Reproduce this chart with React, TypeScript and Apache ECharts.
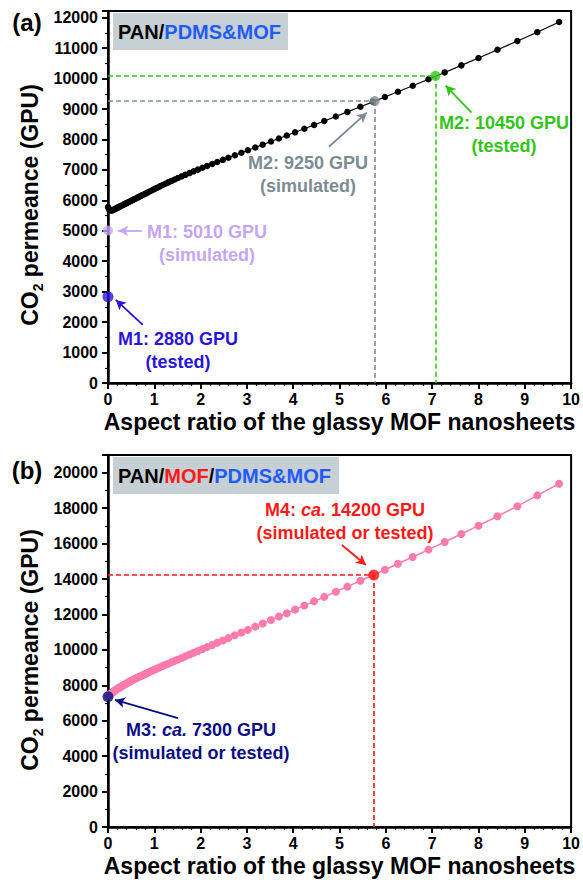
import { useEffect, useRef } from 'react';
import * as echarts from 'echarts';

const aspectRatio = [
  0, 0.02, 0.03, 0.05, 0.07, 0.09, 0.11, 0.13, 0.15, 0.17,
  0.19, 0.21, 0.23, 0.25, 0.27, 0.29, 0.31, 0.34, 0.36, 0.39,
  0.41, 0.44, 0.47, 0.5, 0.53, 0.56, 0.59, 0.63, 0.66, 0.7,
  0.74, 0.78, 0.82, 0.86, 0.91, 0.96, 1.01, 1.06, 1.12, 1.18,
  1.24, 1.3, 1.37, 1.44, 1.51, 1.59, 1.67, 1.76, 1.85, 1.94,
  2.04, 2.14, 2.25, 2.36, 2.48, 2.6, 2.74, 2.88, 3.02, 3.18,
  3.34, 3.52, 3.69, 3.86, 4.04, 4.24, 4.45, 4.67, 4.92, 5.17,
  5.45, 5.72, 5.98, 6.26, 6.58, 6.92, 7.27, 7.63, 8.0, 8.41,
  8.84, 9.27, 9.74,
];

const permeancePdmsMof = [
  5780, 5720, 5695, 5675, 5665, 5670, 5685, 5700, 5715, 5731,
  5746, 5762, 5777, 5792, 5808, 5823, 5839, 5862, 5877, 5900,
  5916, 5939, 5962, 5985, 6008, 6031, 6054, 6085, 6108, 6139,
  6170, 6200, 6231, 6262, 6300, 6339, 6377, 6415, 6460, 6504,
  6547, 6590, 6638, 6686, 6733, 6786, 6838, 6896, 6953, 7009,
  7070, 7130, 7196, 7261, 7331, 7401, 7482, 7563, 7644, 7736,
  7829, 7933, 8032, 8130, 8235, 8352, 8476, 8606, 8755, 8905,
  9073, 9236, 9394, 9566, 9765, 9979, 10202, 10434, 10676, 10947,
  11234, 11524, 11860,
];

const permeanceMofPdmsMof = [
  7400, 7445, 7465, 7505, 7545, 7585, 7625, 7665, 7705, 7740,
  7775, 7810, 7845, 7880, 7910, 7940, 7970, 8015, 8045, 8090,
  8120, 8170, 8215, 8260, 8300, 8335, 8375, 8425, 8460, 8510,
  8560, 8610, 8660, 8710, 8770, 8830, 8890, 8950, 9020, 9085,
  9155, 9220, 9300, 9380, 9460, 9545, 9635, 9735, 9835, 9935,
  10045, 10155, 10275, 10400, 10530, 10665, 10820, 10975, 11130, 11310,
  11490, 11690, 11880, 12070, 12275, 12500, 12740, 12990, 13280, 13570,
  13900, 14215, 14525, 14860, 15245, 15660, 16090, 16540, 17010, 17540,
  18110, 18720, 19380,
];

// highlighted points [aspect ratio, permeance]
const m1Tested = [0, 2830];
const m1Simulated = [0, 5010];
const m2Simulated = [5.76, 9260];
const m2Tested = [7.07, 10090];
const m3Point = [0, 7350];
const m4Point = [5.74, 14230];

// annotation arrows [[tailX, tailY], [headX, headY]]
const arrowM1Tested = [[0.75, 1910], [0.17, 2730]];
const arrowM1Simulated = [[0.73, 5000], [0.22, 5000]];
const arrowM2Simulated = [[4.77, 7760], [5.59, 8880]];
const arrowM2Tested = [[7.85, 8880], [7.29, 9770]];
const arrowM3 = [[1.51, 6150], [0.15, 7170]];
const arrowM4 = [[5.05, 15920], [5.57, 14790]];

const FONT = '"Liberation Sans", Arial, Helvetica, sans-serif';

const C_GRAY = '#7d8b94';
const C_GREEN = '#33c419';
const C_LILAC = '#c4a6f4';
const C_BLUE = '#2a14dc';
const C_PINK = '#ff7bac';
const C_RED = '#ff1a1a';
const C_NAVY = '#0c0c85';
const C_TITLEBLUE = '#1f5bff';

export default function App() {
  const ref = useRef<HTMLDivElement>(null);

  useEffect(() => {
    document.body.style.margin = '0';
    const chart = echarts.init(ref.current!, null, { renderer: 'svg' });

    const pairs = (ys: number[]) => aspectRatio.map((x, i) => [x, ys[i]]);

    const xAxis = (gridIndex: number) => ({
      type: 'value',
      gridIndex,
      min: 0,
      max: 10,
      interval: 1,
      axisLine: { show: true, onZero: false, lineStyle: { color: '#000', width: 2.5 } },
      axisTick: { show: true, inside: false, length: 6, lineStyle: { color: '#000', width: 2 } },
      minorTick: { show: true, splitNumber: 5, length: 3, lineStyle: { color: '#000', width: 1.2 } },
      axisLabel: { color: '#000', fontSize: 16, fontWeight: 'bold', fontFamily: FONT, margin: 8 },
      splitLine: { show: false },
      minorSplitLine: { show: false },
      name: 'Aspect ratio of the glassy MOF nanosheets',
      nameLocation: 'middle',
      nameGap: 27,
      nameTextStyle: { color: '#000', fontSize: 23, fontWeight: 'bold', fontFamily: FONT },
    });

    const yAxis = (gridIndex: number, max: number, interval: number) => ({
      type: 'value',
      gridIndex,
      min: 0,
      max,
      interval,
      axisLine: { show: true, onZero: false, lineStyle: { color: '#000', width: 2.5 } },
      axisTick: { show: true, inside: false, length: 6, lineStyle: { color: '#000', width: 2 } },
      minorTick: { show: true, splitNumber: 2, length: 3, lineStyle: { color: '#000', width: 1.2 } },
      axisLabel: {
        color: '#000', fontSize: 16, fontWeight: 'bold', fontFamily: FONT, margin: 10,
        showMaxLabel: false,
        formatter: (v: number) => (v % interval === 0 ? String(v) : ''),
      },
      splitLine: { show: false },
      minorSplitLine: { show: false },
    });

    const dash = { type: [5, 3], width: 1.6 };

    const guide = (p: number[], color: string) => [
      [
        { coord: [0, p[1]], symbol: 'none' },
        { coord: [p[0], p[1]], symbol: 'none', lineStyle: { color, ...dash } },
      ],
      [
        { coord: [p[0], p[1]], symbol: 'none' },
        { coord: [p[0], 0], symbol: 'none', lineStyle: { color, ...dash } },
      ],
    ];

    const arrow = (a: number[][], color: string) => [
      { coord: a[0], symbol: 'none', lineStyle: { color, width: 1.8, type: 'solid' } },
      { coord: a[1], symbol: 'arrow', symbolSize: [8, 10] },
    ];

    const marker = (
      name: string,
      p: number[],
      color: string,
      idx: number,
      size: number,
      lines: any[],
    ) => ({
      name,
      type: 'scatter',
      xAxisIndex: idx,
      yAxisIndex: idx,
      data: [p],
      symbol: 'circle',
      symbolSize: size,
      itemStyle: { color },
      z: 5,
      markLine: {
        silent: true,
        symbol: ['none', 'none'],
        symbolSize: 9,
        label: { show: false },
        lineStyle: { color, width: 1.6 },
        data: lines,
        z: 4,
      },
    });

    const boldText = { fontSize: 18, fontWeight: 'bold', fontFamily: FONT };

    const annot = (x: number, y: number, text: string, color: string) => ({
      type: 'text',
      x,
      y,
      z: 10,
      style: {
        text,
        align: 'center',
        verticalAlign: 'middle',
        lineHeight: 23,
        fill: color,
        ...boldText,
        rich: {
          n: { ...boldText, fill: color, lineHeight: 23 },
          i: { ...boldText, fontStyle: 'italic', fill: color, lineHeight: 23 },
        },
      },
    });

    const yName = (y: number) => ({
      type: 'text',
      x: 30,
      y,
      rotation: Math.PI / 2,
      style: {
        text: '{m|CO}{s|2}{m| permeance (GPU)}',
        align: 'center',
        verticalAlign: 'middle',
        fill: '#000',
        rich: {
          m: { fontSize: 23, fontWeight: 'bold', fontFamily: FONT, fill: '#000', lineHeight: 30, verticalAlign: 'middle' },
          s: { fontSize: 14, fontWeight: 'bold', fontFamily: FONT, fill: '#000', lineHeight: 30, verticalAlign: 'bottom' },
        },
      },
    });

    const titleBox = (y: number, width: number, text: string) => [
      { type: 'rect', shape: { x: 113, y, width, height: 37 }, style: { fill: '#c6cfd3' }, z: 1 },
      {
        type: 'text',
        x: 118,
        y: y + 19,
        z: 2,
        style: {
          text,
          align: 'left',
          verticalAlign: 'middle',
          rich: {
            k: { fontSize: 20, fontWeight: 'bold', fontFamily: FONT, fill: '#000' },
            b: { fontSize: 20, fontWeight: 'bold', fontFamily: FONT, fill: C_TITLEBLUE },
            r: { fontSize: 20, fontWeight: 'bold', fontFamily: FONT, fill: C_RED },
          },
        },
      },
    ];

    const option = {
      animation: false,
      backgroundColor: '#fff',
      grid: [
        { left: 108, top: 11, width: 465, height: 372, show: true, borderColor: '#000', borderWidth: 2, backgroundColor: 'transparent' },
        { left: 108, top: 455, width: 465, height: 372, show: true, borderColor: '#000', borderWidth: 2, backgroundColor: 'transparent' },
      ],
      xAxis: [xAxis(0), xAxis(1)],
      yAxis: [yAxis(0, 12220, 1000), yAxis(1, 21000, 2000)],
      series: [
        {
          name: 'PAN/PDMS&MOF',
          type: 'line',
          xAxisIndex: 0,
          yAxisIndex: 0,
          data: pairs(permeancePdmsMof),
          symbol: 'circle',
          symbolSize: 6.5,
          showSymbol: true,
          itemStyle: { color: '#000' },
          lineStyle: { color: '#000', width: 1.2 },
          z: 3,
        },
        {
          name: 'PAN/MOF/PDMS&MOF',
          type: 'line',
          xAxisIndex: 1,
          yAxisIndex: 1,
          data: pairs(permeanceMofPdmsMof),
          symbol: 'circle',
          symbolSize: 8,
          showSymbol: true,
          itemStyle: { color: C_PINK },
          lineStyle: { color: C_PINK, width: 1.5 },
          z: 3,
        },
        marker('M2 simulated', m2Simulated, C_GRAY, 0, 10, [...guide(m2Simulated, C_GRAY), arrow(arrowM2Simulated, C_GRAY)]),
        marker('M2 tested', m2Tested, C_GREEN, 0, 10, [...guide(m2Tested, C_GREEN), arrow(arrowM2Tested, C_GREEN)]),
        marker('M1 simulated', m1Simulated, C_LILAC, 0, 10, [arrow(arrowM1Simulated, C_LILAC)]),
        marker('M1 tested', m1Tested, C_BLUE, 0, 11, [arrow(arrowM1Tested, C_BLUE)]),
        marker('M4', m4Point, C_RED, 1, 11, [...guide(m4Point, C_RED), arrow(arrowM4, C_RED)]),
        marker('M3', m3Point, C_NAVY, 1, 11, [arrow(arrowM3, C_NAVY)]),
      ],
      graphic: [
        { type: 'text', x: 27, y: 22, style: { text: '(a)', align: 'center', verticalAlign: 'middle', fill: '#000', fontSize: 24, fontWeight: 'bold', fontFamily: FONT } },
        { type: 'text', x: 27, y: 470, style: { text: '(b)', align: 'center', verticalAlign: 'middle', fill: '#000', fontSize: 24, fontWeight: 'bold', fontFamily: FONT } },
        yName(205),
        yName(650),
        ...titleBox(13, 175, '{k|PAN/}{b|PDMS&MOF}'),
        ...titleBox(457, 226, '{k|PAN/}{r|MOF}{k|/}{b|PDMS&MOF}'),
        annot(308, 174, '{n|M2: 9250 GPU}\n{n|(simulated)}', C_GRAY),
        annot(504, 134, '{n|M2: 10450 GPU}\n{n|(tested)}', C_GREEN),
        annot(207, 243, '{n|M1: 5010 GPU}\n{n|(simulated)}', C_LILAC),
        annot(178, 350, '{n|M1: 2880 GPU}\n{n|(tested)}', C_BLUE),
        annot(345, 521, '{n|M4: }{i|ca.}{n| 14200 GPU}\n{n|(simulated or tested)}', C_RED),
        annot(201, 741, '{n|M3: }{i|ca.}{n| 7300 GPU}\n{n|(simulated or tested)}', C_NAVY),
      ],
    };

    chart.setOption(option as any);
    return () => chart.dispose();
  }, []);

  return <div ref={ref} style={{ width: 583, height: 884 }} />;
}
